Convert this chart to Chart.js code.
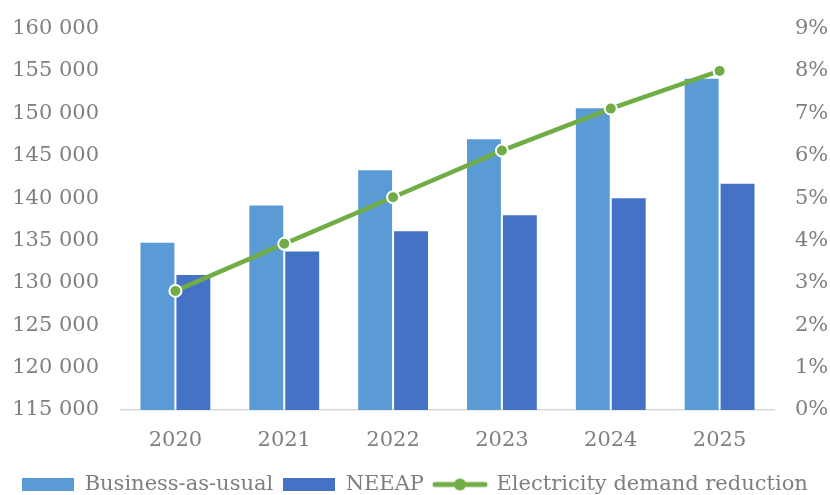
<!DOCTYPE html>
<html>
<head>
<meta charset="utf-8">
<script src="https://cdn.jsdelivr.net/npm/chart.js@4/dist/chart.umd.min.js"></script>
<style>
  html, body { margin: 0; padding: 0; background: #ffffff; overflow: hidden; }
  #wrap { width: 830px; height: 505px; }
</style>
</head>
<body>
<div id="wrap"><canvas id="c" width="830" height="505"></canvas></div>
<script>
const categories = ['2020', '2021', '2022', '2023', '2024', '2025'];
const businessAsUsual = [134850, 139250, 143400, 147050, 150700, 154200];
const neeap = [131050, 133800, 136200, 138100, 140100, 141800];
const demandReduction = [2.81, 3.92, 5.02, 6.12, 7.11, 8.00];
const seriesLabels = ['Business-as-usual', 'NEEAP', 'Electricity demand reduction'];
const leftTicks = { min: 115000, max: 160000, step: 5000 };
const rightTicks = { min: 0, max: 9, step: 1 };

const C_BAU = '#5B9BD5';
const C_NEEAP = '#4472C4';
const C_LINE = '#70AD47';
const C_TEXT = '#7F7F7F';
const FONT = "'DejaVu Serif', 'Liberation Serif', serif";

function boxImg(color) {
  const cv = document.createElement('canvas');
  cv.width = 52; cv.height = 13;
  const g = cv.getContext('2d');
  g.fillStyle = color; g.fillRect(0, 0, 52, 13);
  return cv;
}
function lineImg(color) {
  const cv = document.createElement('canvas');
  cv.width = 56; cv.height = 14;
  const g = cv.getContext('2d');
  g.strokeStyle = color; g.lineWidth = 5; g.lineCap = 'round';
  g.beginPath(); g.moveTo(3, 7); g.lineTo(53, 7); g.stroke();
  g.fillStyle = color;
  g.beginPath(); g.arc(28, 7, 6, 0, Math.PI * 2); g.fill();
  return cv;
}
const legendImgs = [boxImg(C_BAU), boxImg(C_NEEAP), lineImg(C_LINE)];

function fmtThousands(v) {
  return String(Math.round(v)).replace(/\B(?=(\d{3})+(?!\d))/g, ' ');
}
function fixVertical(width) {
  return (s) => { s.width = width; s.paddingTop = 0; s.paddingBottom = 0; };
}

new Chart(document.getElementById('c'), {
  data: {
    labels: categories,
    datasets: [
      {
        type: 'bar', label: seriesLabels[0], data: businessAsUsual, yAxisID: 'y',
        backgroundColor: C_BAU, borderColor: 'rgba(255,255,255,0.25)', borderWidth: 1,
        categoryPercentage: 0.66, barPercentage: 1.0, order: 1
      },
      {
        type: 'bar', label: seriesLabels[1], data: neeap, yAxisID: 'y',
        backgroundColor: C_NEEAP, borderColor: 'rgba(255,255,255,0.2)', borderWidth: 1,
        categoryPercentage: 0.66, barPercentage: 1.0, order: 1
      },
      {
        type: 'line', label: seriesLabels[2], data: demandReduction, yAxisID: 'y1',
        borderColor: C_LINE, borderWidth: 4.5, backgroundColor: C_LINE,
        pointRadius: 6, pointBackgroundColor: C_LINE, pointBorderColor: '#ffffff',
        pointBorderWidth: 2, tension: 0, order: 0
      }
    ]
  },
  options: {
    responsive: false,
    animation: false,
    devicePixelRatio: 1,
    layout: { padding: { top: 28.5, left: 0, right: 0, bottom: 0 } },
    plugins: {
      tooltip: { enabled: false },
      legend: {
        position: 'bottom',
        labels: {
          usePointStyle: true,
          pointStyleWidth: 52,
          boxHeight: 13,
          padding: 10,
          color: C_TEXT,
          font: { family: FONT, size: 21 },
          generateLabels: (chart) => chart.data.datasets.map((ds, i) => ({
            text: ds.label, pointStyle: legendImgs[i], fontColor: C_TEXT,
            datasetIndex: i, hidden: false, lineWidth: 0,
            strokeStyle: 'rgba(0,0,0,0)', fillStyle: 'rgba(0,0,0,0)'
          }))
        }
      }
    },
    scales: {
      x: {
        grid: { display: false, drawTicks: false },
        border: { display: true, color: '#D9D9D9', width: 1.5 },
        ticks: { color: C_TEXT, font: { family: FONT, size: 21 }, padding: 18, maxRotation: 0 },
        afterFit: (s) => { s.height = 54; }
      },
      y: {
        position: 'left',
        min: leftTicks.min, max: leftTicks.max,
        grid: { display: false, drawTicks: false },
        border: { display: false },
        ticks: {
          stepSize: leftTicks.step, color: C_TEXT, padding: 22,
          font: { family: FONT, size: 21 },
          callback: (v) => fmtThousands(v)
        },
        afterFit: fixVertical(121)
      },
      y1: {
        position: 'right',
        min: rightTicks.min, max: rightTicks.max,
        grid: { display: false, drawTicks: false },
        border: { display: false },
        ticks: {
          stepSize: rightTicks.step, color: C_TEXT, padding: 21,
          font: { family: FONT, size: 21 },
          callback: (v) => v + '%'
        },
        afterFit: fixVertical(56)
      }
    }
  }
});
</script>
</body>
</html>
